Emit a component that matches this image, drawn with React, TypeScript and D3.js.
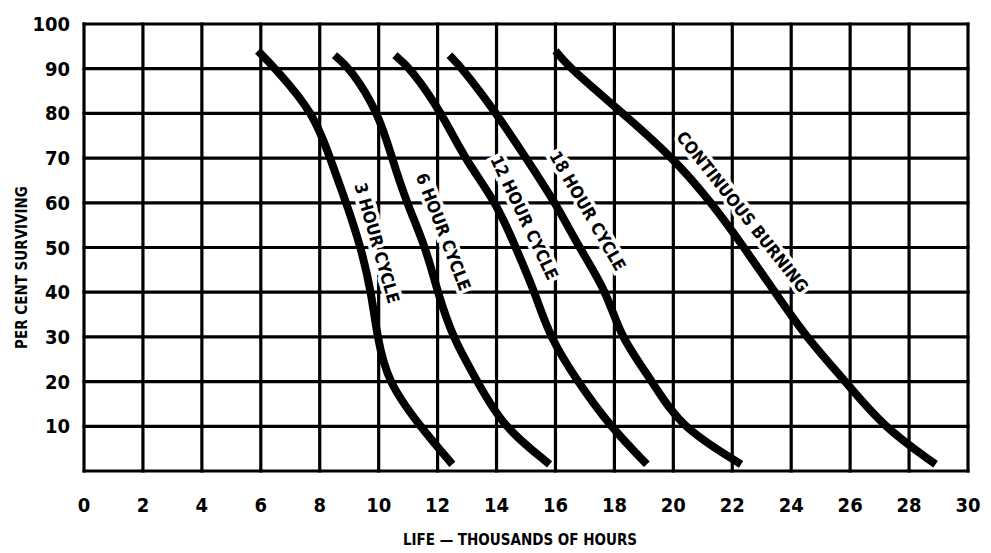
import * as d3 from "d3";
import { useEffect, useRef } from "react";

// axis ticks
const xTicks = [0, 2, 4, 6, 8, 10, 12, 14, 16, 18, 20, 22, 24, 26, 28, 30];
const yTicks = [10, 20, 30, 40, 50, 60, 70, 80, 90, 100];

// curves: [life (thousands of hours), per cent surviving]
const threeHour: [number, number][] = [
  [5.9, 94], [6.5, 90], [7.8, 80], [8.35, 70], [8.9, 60], [9.4, 50],
  [9.75, 40], [9.95, 30], [10.3, 20], [11.4, 10], [12.5, 1.5],
];
const sixHour: [number, number][] = [
  [8.5, 93], [9.05, 90], [10.0, 80], [10.45, 70], [10.95, 60], [11.6, 50],
  [12.0, 40], [12.5, 30], [13.35, 20], [14.2, 10], [15.8, 1.5],
];
const twelveHour: [number, number][] = [
  [10.55, 93], [11.1, 90], [12.15, 80], [12.9, 70], [14.0, 60], [14.65, 50],
  [15.3, 40], [15.8, 30], [16.75, 20], [17.85, 10], [19.1, 1.5],
];
const eighteenHour: [number, number][] = [
  [12.4, 93], [12.85, 90], [14.0, 80], [15.0, 70], [16.0, 60], [16.8, 50],
  [17.75, 40], [18.2, 30], [19.3, 20], [20.2, 10], [22.3, 1.5],
];
const continuous: [number, number][] = [
  [16.0, 94], [16.5, 90], [18.3, 80], [20.0, 70], [21.3, 60], [22.4, 50],
  [23.45, 40], [24.5, 30], [25.85, 20], [27.1, 10], [28.9, 1.5],
];

const seriesList = [threeHour, sixHour, twelveHour, eighteenHour, continuous];

// curve labels: text, anchor (x, y) in data units, rotation in degrees
const labelText = ["3 HOUR CYCLE", "6 HOUR CYCLE", "12 HOUR CYCLE", "18 HOUR CYCLE", "CONTINUOUS BURNING"];
const labelAt: [number, number][] = [[9.95, 51], [12.2, 53.5], [14.95, 56.7], [17.1, 58.2], [22.35, 58]];
const labelAngle = [74, 69, 64.5, 60, 51.5];

const W = 991;
const H = 553;
const FONT = "'DejaVu Sans Condensed', 'Liberation Sans Narrow', sans-serif";

export default function App() {
  const svgRef = useRef<SVGSVGElement>(null);

  useEffect(() => {
    document.body.style.margin = "0";
    const svg = d3.select(svgRef.current);
    svg.selectAll("*").remove();

    const x = d3.scaleLinear().domain([0, 30]).range([84, 968]);
    const y = d3.scaleLinear().domain([0, 100]).range([471, 24]);

    const grid = svg.append("g").attr("stroke", "#000").attr("stroke-width", 3.2);
    grid
      .selectAll("line.v")
      .data(xTicks)
      .join("line")
      .attr("x1", (d) => x(d))
      .attr("x2", (d) => x(d))
      .attr("y1", y(0) + 1.5)
      .attr("y2", y(100) - 1.5);
    grid
      .selectAll("line.h")
      .data([0, ...yTicks])
      .join("line")
      .attr("x1", x(0) - 1.5)
      .attr("x2", x(30) + 1.5)
      .attr("y1", (d) => y(d))
      .attr("y2", (d) => y(d));

    // labels go under the curves; the white halo breaks the grid lines
    svg
      .append("g")
      .selectAll("text")
      .data(labelText)
      .join("text")
      .attr("transform", (_, i) => `translate(${x(labelAt[i][0])},${y(labelAt[i][1])}) rotate(${labelAngle[i]})`)
      .attr("text-anchor", "middle")
      .attr("dy", "0.36em")
      .attr("font-family", FONT)
      .attr("font-weight", "bold")
      .attr("font-size", 17)
      .attr("stroke", "#fff")
      .attr("stroke-width", 7)
      .attr("paint-order", "stroke")
      .attr("fill", "#000")
      .text((d) => d);

    // b-spline smooths the hand-read points like the drawn curves
    const line = d3
      .line<[number, number]>()
      .x((d) => x(d[0]))
      .y((d) => y(d[1]))
      .curve(d3.curveBasis);

    svg
      .append("g")
      .selectAll("path")
      .data(seriesList)
      .join("path")
      .attr("d", (d) => line(d))
      .attr("fill", "none")
      .attr("stroke", "#000")
      .attr("stroke-width", 8);

    svg
      .append("g")
      .selectAll("text")
      .data(xTicks)
      .join("text")
      .attr("x", (d) => x(d))
      .attr("y", y(0) + 41)
      .attr("text-anchor", "middle")
      .attr("font-family", FONT)
      .attr("font-weight", "bold")
      .attr("font-size", 20)
      .text((d) => d);

    svg
      .append("g")
      .selectAll("text")
      .data(yTicks)
      .join("text")
      .attr("x", x(0) - 14)
      .attr("y", (d) => y(d) + 7)
      .attr("text-anchor", "end")
      .attr("font-family", FONT)
      .attr("font-weight", "bold")
      .attr("font-size", 20)
      .text((d) => d);

    svg
      .append("text")
      .attr("transform", `translate(27,${(y(0) + y(100)) / 2 + 20}) rotate(-90)`)
      .attr("text-anchor", "middle")
      .attr("font-family", FONT)
      .attr("font-weight", "bold")
      .attr("font-size", 15)
      .text("PER CENT SURVIVING");

    svg
      .append("text")
      .attr("x", 520)
      .attr("y", 545)
      .attr("text-anchor", "middle")
      .attr("font-family", FONT)
      .attr("font-weight", "bold")
      .attr("font-size", 15)
      .text("LIFE — THOUSANDS OF HOURS");
  }, []);

  return (
    <svg
      ref={svgRef}
      width={W}
      height={H}
      style={{ position: "absolute", left: 0, top: 0, background: "#fff" }}
    />
  );
}
